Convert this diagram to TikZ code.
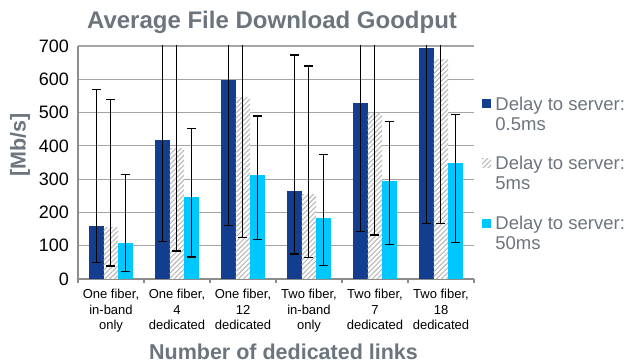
\documentclass[tikz,border=0pt]{standalone}
\usepackage{fontspec}
\setmainfont{Liberation Sans}
\usetikzlibrary{patterns.meta, positioning}
\definecolor{darkbar}{RGB}{19,61,142}
\definecolor{cyanbar}{RGB}{0,200,255}
\definecolor{hatchgray}{RGB}{185,185,185}
\definecolor{labelgray}{RGB}{108,117,126}
\definecolor{gridgray}{RGB}{165,165,165}
\definecolor{axisgray}{RGB}{140,140,140}
\tikzstyle{bardark} = [fill=darkbar]
\tikzstyle{barhatch} = [fill=white, postaction={pattern={Lines[angle=45,distance=3.5pt,line width=1.1pt]}, pattern color=hatchgray}]
\tikzstyle{barcyan} = [fill=cyanbar]
\tikzstyle{errbar} = [line width=1.3pt, black]
\tikzstyle{gridline} = [gridgray, line width=1.2pt]
\tikzstyle{axisline} = [axisgray, line width=1.3pt]
\tikzstyle{ticklbl} = [font=\fontsize{18}{20}\selectfont, anchor=east, inner sep=0pt]
\tikzstyle{catlbl} = [font=\fontsize{13}{15.5}\selectfont, align=center, anchor=north, inner sep=0pt]
\tikzstyle{axtitle} = [font=\bfseries\fontsize{21.5}{24}\selectfont, text=labelgray, inner sep=0pt]
\tikzstyle{legsq} = [minimum size=9pt, inner sep=0pt]
\tikzstyle{legtxt} = [font=\fontsize{18.5}{20}\selectfont, text=labelgray, align=left, anchor=north west, inner sep=0pt]

\begin{document}
\begin{tikzpicture}[x=1pt, y=1pt]
\useasboundingbox (0,0) rectangle (629,364);
\node (title) [axtitle, font=\bfseries\fontsize{24}{26}\selectfont, anchor=base] at (272,335) {Average File Download Goodput};
\node (ylabel) [axtitle, rotate=90] at (20,219) {[Mb/s]};
\node (xlabel) [axtitle, anchor=base] at (283.5,4) {Number of dedicated links};

\begin{scope}[shift={(78pt,85pt)}, x=1pt, y=0.33286pt]
% grid and axes
\foreach \v in {100,200,...,700}
  \draw[gridline] (0,\v) -- (396,\v);
\foreach \v in {0,100,...,700}
  \node (yt\v) [ticklbl] at (-9,\v) {\v};
\draw[axisline] (0,700) -- (0,0) -- (396,0);
\foreach \k in {0,...,6}
  \draw[axisline] (66*\k,0) -- ++(0,-4pt);

% bars: value/low/high for 0.5ms, 5ms, 50ms
\foreach \d/\dl/\dh/\h/\hl/\hh/\c/\cl/\ch [count=\i from 0] in {
    160/49/569/155/39/539/107/22/313,
    418/112/800/393/84/800/245/66/453,
    598/161/800/545/125/800/313/119/490,
    265/75/673/255/64/640/183/40/375,
    528/142/800/500/132/800/295/104/474,
    693/167/800/660/166/800/347/109/495} {
  \fill[bardark] (66*\i+11,0) rectangle (66*\i+25.5,\d);
  \path[barhatch] (66*\i+25.5,0) rectangle (66*\i+40,\h);
  \fill[barcyan] (66*\i+40,0) rectangle (66*\i+54.5,\c);
  \begin{scope}
  \clip (-5,-5) rectangle (400,700);
  \foreach \x/\lo/\hi in {18.25/\dl/\dh, 32.75/\hl/\hh, 47.25/\cl/\ch} {
    \draw[errbar] (66*\i+\x,\lo) -- (66*\i+\x,\hi);
    \draw[errbar] (66*\i+\x-4.5,\lo) -- (66*\i+\x+4.5,\lo);
    \draw[errbar] (66*\i+\x-4.5,\hi) -- (66*\i+\x+4.5,\hi);
  }
  \end{scope}
}

% category labels
\foreach \t [count=\i from 0] in {{One fiber,\\in-band\\only}, {One fiber,\\4\\dedicated},
    {One fiber,\\12\\dedicated}, {Two fiber,\\in-band\\only},
    {Two fiber,\\7\\dedicated}, {Two fiber,\\18\\dedicated}}
  \node (cat\i) [catlbl] at (66*\i+33,0) [yshift=-10pt] {\t};
\end{scope}

% legend
\node (sq1) [legsq, fill=darkbar] at (486.5,260) {};
\node (sq2) [legsq, barhatch] at (486.5,200.5) {};
\node (sq3) [legsq, fill=cyanbar] at (486.5,140.5) {};
\node (leg1) [legtxt] at ([xshift=4pt, yshift=2.5pt]sq1.north east) {Delay to server:\\0.5ms};
\node (leg2) [legtxt] at ([xshift=4pt, yshift=2.5pt]sq2.north east) {Delay to server:\\5ms};
\node (leg3) [legtxt] at ([xshift=4pt, yshift=2.5pt]sq3.north east) {Delay to server:\\50ms};
\end{tikzpicture}
\end{document}
